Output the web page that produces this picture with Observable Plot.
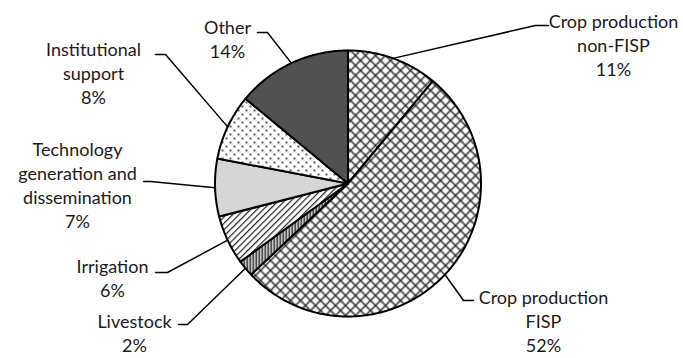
<!DOCTYPE html>
<html>
<head>
<meta charset="utf-8">
<script src="https://cdn.jsdelivr.net/npm/d3@7"></script>
<script src="https://cdn.jsdelivr.net/npm/@observablehq/plot@0.6"></script>
<style>
  body { margin: 0; background: #fff; }
  #chart svg { display: block; }
</style>
</head>
<body>
<div id="chart"></div>
<script>
// Spending shares by category, clockwise from 12 o'clock
const categories = [
  "Crop production non-FISP",
  "Crop production FISP",
  "Livestock",
  "Irrigation",
  "Technology generation and dissemination",
  "Institutional support",
  "Other"
];
const shares = [11, 52, 2, 6, 7, 8, 14];
const labelText = [
  ["Crop production", "non-FISP"],
  ["Crop production", "FISP"],
  ["Livestock"],
  ["Irrigation"],
  ["Technology", "generation and", "dissemination"],
  ["Institutional", "support"],
  ["Other"]
];
const fills = [
  "url(#cross)", "url(#cross)", "url(#vstripe)", "url(#diag)",
  "#d6d6d6", "url(#dots)", "#515151"
];

// Layout: pie placement and label blocks (first-line centre, leader elbow)
const W = 683, H = 358;
const pie = {cx: 347.5, cy: 183, r: 133};
const lineH = 24;
const labelLayout = [
  {x: 613, y: 22,  from: [548, 25],  elbow: [535, 25]},
  {x: 543, y: 298, from: [473, 300], elbow: [463, 300]},
  {x: 134, y: 322, from: [178, 324], elbow: [187, 324]},
  {x: 112, y: 267, from: [155, 272], elbow: [167, 272]},
  {x: 77,  y: 150, from: [143, 181], elbow: [150, 181]},
  {x: 93,  y: 50,  from: [155, 54],  elbow: [165, 54]},
  {x: 227, y: 28,  from: [257, 32],  elbow: [267, 32]}
];

const arcs = d3.pie().sort(null).value(d => d)(shares);
const polar = (a, r) => [pie.cx + r * Math.sin(a), pie.cy - r * Math.cos(a)];

// Slice outlines: centre → arc → centre
const slicePts = [];
arcs.forEach((a, i) => {
  const steps = Math.max(2, Math.ceil((a.endAngle - a.startAngle) / (Math.PI / 360)));
  slicePts.push({k: i, p: [pie.cx, pie.cy]});
  for (let s = 0; s <= steps; ++s) {
    const t = a.startAngle + (a.endAngle - a.startAngle) * s / steps;
    slicePts.push({k: i, p: polar(t, pie.r)});
  }
  slicePts.push({k: i, p: [pie.cx, pie.cy]});
});

// Leader lines: label → elbow → slice mid-arc
const leaderPts = [];
arcs.forEach((a, i) => {
  const L = labelLayout[i];
  const mid = (a.startAngle + a.endAngle) / 2;
  leaderPts.push({k: i, p: L.from}, {k: i, p: L.elbow}, {k: i, p: polar(mid, pie.r)});
});

// Label text rows
const textRows = [];
categories.forEach((c, i) => {
  const lines = [...labelText[i], `${shares[i]}%`];
  lines.forEach((t, j) => textRows.push({x: labelLayout[i].x, y: labelLayout[i].y + j * lineH, t}));
});

const svg = Plot.plot({
  width: W,
  height: H,
  margin: 0,
  x: {domain: [0, W], range: [0, W], axis: null},
  y: {domain: [0, H], range: [0, H], axis: null},
  color: {type: "identity"},
  style: {background: "#fff"},
  marks: [
    Plot.line(slicePts, {
      x: d => d.p[0], y: d => d.p[1], z: "k",
      fill: d => fills[d.k],
      stroke: "#000", strokeWidth: 2, strokeLinejoin: "round", curve: "linear"
    }),
    Plot.line(leaderPts, {
      x: d => d.p[0], y: d => d.p[1], z: "k",
      stroke: "#000", strokeWidth: 1.5, curve: "linear"
    }),
    Plot.text(textRows, {
      x: "x", y: "y", text: "t",
      fill: "#1a1a1a", fontFamily: "Lato, 'Open Sans', sans-serif", fontSize: 18
    })
  ]
});

// Hatch patterns used by the slice fills
const defs = d3.select(svg).insert("defs", ":first-child");
const cross = defs.append("pattern").attr("id", "cross").attr("patternUnits", "userSpaceOnUse")
  .attr("width", 10).attr("height", 10);
cross.append("rect").attr("width", 10).attr("height", 10).attr("fill", "#fff");
cross.append("path").attr("d", "M-1,-1L11,11M-1,11L11,-1").attr("stroke", "#2a2a2a").attr("stroke-width", 1.5);

const vs = defs.append("pattern").attr("id", "vstripe").attr("patternUnits", "userSpaceOnUse")
  .attr("width", 3).attr("height", 3);
vs.append("rect").attr("width", 3).attr("height", 3).attr("fill", "#fff");
vs.append("rect").attr("width", 1.5).attr("height", 3).attr("fill", "#111");

const dg = defs.append("pattern").attr("id", "diag").attr("patternUnits", "userSpaceOnUse")
  .attr("width", 4.5).attr("height", 4.5).attr("patternTransform", "rotate(45)");
dg.append("rect").attr("width", 4.5).attr("height", 4.5).attr("fill", "#fff");
dg.append("rect").attr("width", 1.2).attr("height", 4.5).attr("fill", "#222");

const dots = defs.append("pattern").attr("id", "dots").attr("patternUnits", "userSpaceOnUse")
  .attr("width", 8).attr("height", 8);
dots.append("rect").attr("width", 8).attr("height", 8).attr("fill", "#fff");
dots.append("circle").attr("cx", 2).attr("cy", 2).attr("r", 1).attr("fill", "#222");
dots.append("circle").attr("cx", 6).attr("cy", 6).attr("r", 1).attr("fill", "#222");

document.getElementById("chart").append(svg);
</script>
</body>
</html>
